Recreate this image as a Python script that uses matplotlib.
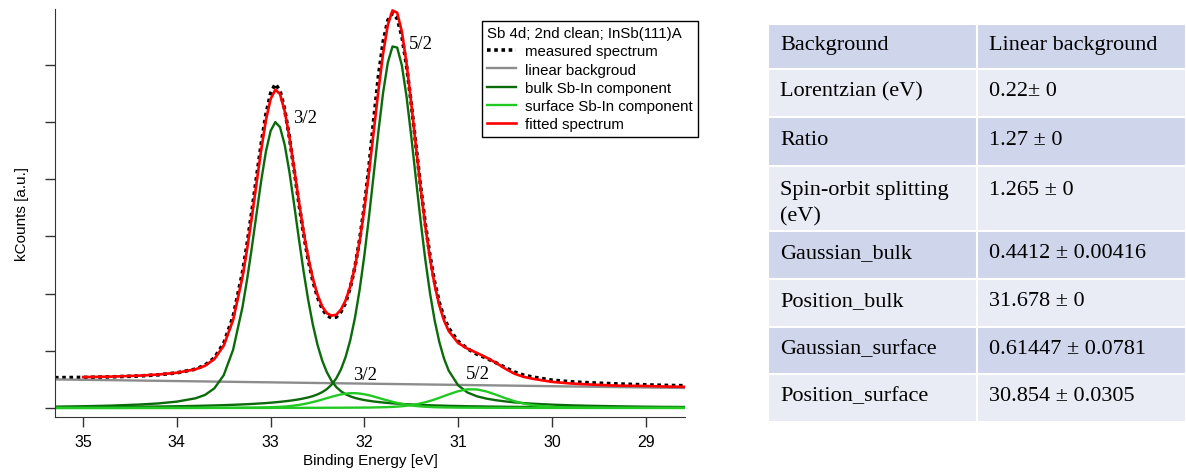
import numpy as np
import matplotlib
matplotlib.use('Agg')
import matplotlib.pyplot as plt
from matplotlib.patches import Rectangle

plt.rcParams['font.family'] = ['Liberation Sans', 'DejaVu Sans']

# binding energy grid (eV), high -> low
energy = [35.3, 35.0, 34.7, 34.4, 34.2, 34.0, 33.8, 33.7, 33.6, 33.5, 33.4, 33.3,
          33.25, 33.2, 33.15, 33.1, 33.05, 33.0, 32.95, 32.9, 32.85, 32.8,
          32.75, 32.7, 32.65, 32.6, 32.55, 32.5, 32.45, 32.4, 32.35, 32.3,
          32.25, 32.2, 32.15, 32.1, 32.05, 32.0, 31.95, 31.9, 31.85, 31.8,
          31.75, 31.7, 31.65, 31.6, 31.55, 31.5, 31.45, 31.4, 31.35, 31.3,
          31.25, 31.2, 31.15, 31.1,
          31.0, 30.9, 30.8, 30.7, 30.6, 30.5, 30.4, 30.3, 30.2,
          30.0, 29.8, 29.6, 29.3, 29.0, 28.8, 28.58]

measured = [0.530, 0.535, 0.545, 0.560, 0.580, 0.615, 0.680, 0.750, 0.876, 1.131, 1.600, 2.370,
            2.877, 3.443, 4.038, 4.623, 5.135, 5.502, 5.665, 5.548, 5.221, 4.737,
            4.172, 3.596, 3.054, 2.598, 2.224, 1.939, 1.735, 1.617, 1.576, 1.590,
            1.681, 1.841, 2.107, 2.471, 2.948, 3.534, 4.235, 5.042, 5.804, 6.400,
            6.776, 6.900, 6.809, 6.498, 5.980, 5.322, 4.593, 3.873, 3.219, 2.660,
            2.197, 1.841, 1.579, 1.395,
            1.166, 1.037, 0.943, 0.873, 0.794, 0.710, 0.630, 0.574, 0.540,
            0.487, 0.459, 0.441, 0.421, 0.405, 0.396, 0.390]

bg_energy = [35.3, 28.58]
background = [0.50, 0.35]

bulk_32 = [0.024, 0.031, 0.042, 0.061, 0.080, 0.112, 0.170, 0.229, 0.344, 0.575, 1.020, 1.765,
           2.258, 2.810, 3.400, 3.980, 4.485, 4.845, 4.998, 4.910, 4.600, 4.130,
           3.565, 2.975, 2.405, 1.895, 1.460, 1.105, 0.830, 0.625, 0.474, 0.367,
           0.293, 0.241, 0.204, 0.176, 0.156, 0.139, 0.126, 0.114, 0.105, 0.096,
           0.089, 0.082, 0.076, 0.071, 0.066, 0.062, 0.058, 0.054, 0.051, 0.048,
           0.045, 0.043, 0.041, 0.038,
           0.035, 0.031, 0.029, 0.026, 0.024, 0.022, 0.020, 0.019, 0.018,
           0.015, 0.013, 0.012, 0.010, 0.009, 0.008, 0.007]

bulk_52 = [0.013, 0.015, 0.018, 0.023, 0.026, 0.031, 0.037, 0.041, 0.045, 0.050, 0.056, 0.063,
           0.067, 0.071, 0.076, 0.081, 0.086, 0.093, 0.100, 0.108, 0.117, 0.127,
           0.138, 0.151, 0.167, 0.185, 0.208, 0.238, 0.277, 0.331, 0.408, 0.518,
           0.674, 0.893, 1.189, 1.580, 2.075, 2.670, 3.353, 4.092, 4.837, 5.515,
           6.039, 6.320, 6.301, 5.987, 5.441, 4.750, 4.002, 3.267, 2.593, 2.009,
           1.528, 1.149, 0.862, 0.652,
           0.397, 0.271, 0.205, 0.165, 0.137, 0.116, 0.099, 0.086, 0.075,
           0.059, 0.047, 0.039, 0.030, 0.023, 0.020, 0.018]

surf_32 = [0.001, 0.001, 0.001, 0.002, 0.002, 0.002, 0.003, 0.003, 0.004, 0.004, 0.005, 0.006,
           0.007, 0.007, 0.008, 0.010, 0.011, 0.014, 0.017, 0.021, 0.026, 0.033,
           0.043, 0.054, 0.068, 0.085, 0.104, 0.125, 0.148, 0.172, 0.196, 0.218,
           0.237, 0.251, 0.259, 0.260, 0.253, 0.240, 0.223, 0.201, 0.178, 0.153,
           0.131, 0.109, 0.089, 0.072, 0.057, 0.045, 0.035, 0.028, 0.022, 0.018,
           0.014, 0.012, 0.010, 0.009,
           0.007, 0.006, 0.005, 0.004, 0.004, 0.003, 0.003, 0.003, 0.002,
           0.002, 0.002, 0.001, 0.001, 0.001, 0.001, 0.001]

surf_52 = [0.001, 0.001, 0.001, 0.001, 0.001, 0.001, 0.001, 0.001, 0.002, 0.002, 0.002, 0.002,
           0.002, 0.002, 0.002, 0.002, 0.002, 0.002, 0.003, 0.003, 0.003, 0.003,
           0.003, 0.003, 0.003, 0.004, 0.004, 0.004, 0.004, 0.005, 0.005, 0.005,
           0.005, 0.006, 0.006, 0.007, 0.007, 0.008, 0.008, 0.010, 0.012, 0.014,
           0.016, 0.020, 0.025, 0.031, 0.040, 0.050, 0.064, 0.081, 0.101, 0.124,
           0.150, 0.179, 0.209, 0.239,
           0.294, 0.327, 0.325, 0.290, 0.235, 0.174, 0.120, 0.078, 0.048,
           0.019, 0.010, 0.007, 0.004, 0.003, 0.003, 0.002]

# fit starts at 35.0 eV (energy[1:])
fitted = [0.541, 0.549, 0.566, 0.585, 0.617, 0.678, 0.738, 0.856, 1.091, 1.540, 2.291,
          2.787, 3.343, 3.938, 4.523, 5.035, 5.402, 5.565, 5.488, 5.191, 4.737,
          4.192, 3.626, 3.094, 2.638, 2.264, 1.979, 1.775, 1.657, 1.616, 1.630,
          1.721, 1.881, 2.127, 2.471, 2.918, 3.484, 4.135, 4.842, 5.554, 6.200,
          6.696, 6.950, 6.909, 6.578, 6.020, 5.322, 4.573, 3.843, 3.179, 2.610,
          2.147, 1.791, 1.529, 1.345,
          1.136, 1.037, 0.963, 0.883, 0.794, 0.690, 0.600, 0.544, 0.510,
          0.457, 0.429, 0.411, 0.391, 0.385, 0.376, 0.370]

params = ['Background', 'Lorentzian (eV)', 'Ratio', 'Spin-orbit splitting\n(eV)',
          'Gaussian_bulk', 'Position_bulk', 'Gaussian_surface', 'Position_surface']
values = ['Linear background', '0.22\u00b1 0', '1.27 \u00b1 0', '1.265 \u00b1 0',
          '0.4412 \u00b1 0.00416', '31.678 \u00b1 0', '0.61447 \u00b1 0.0781', '30.854 \u00b1 0.0305']

W, H = 1186, 477
fig = plt.figure(figsize=(W / 100, H / 100), dpi=100)
ax = fig.add_axes([55 / W, 1 - 418 / H, 630 / W, 408 / H])

dkgreen = '#0b6b0b'
ltgreen = '#22c922'
ax.plot(energy, measured, color='black', lw=2.6, ls=(0, (1, 1)), label='measured spectrum')
ax.plot(bg_energy, background, color='#8c8c8c', lw=1.7, label='linear backgroud')
ax.plot(energy, bulk_32, color=dkgreen, lw=1.7, label='bulk Sb-In component')
ax.plot(energy, bulk_52, color=dkgreen, lw=1.7)
ax.plot(energy, surf_32, color=ltgreen, lw=1.7, label='surface Sb-In component')
ax.plot(energy, surf_52, color=ltgreen, lw=1.7)
ax.plot(energy[1:], fitted, color='red', lw=1.9, label='fitted spectrum')

serif = ['Liberation Serif', 'DejaVu Serif']
ax.text(32.76, 5.07, '3/2', family=serif, fontsize=13.5, ha='left', va='center')
ax.text(31.53, 6.38, '5/2', family=serif, fontsize=13.5, ha='left', va='center')
ax.text(32.12, 0.58, '3/2', family=serif, fontsize=13.5, ha='left', va='center')
ax.text(30.92, 0.60, '5/2', family=serif, fontsize=13.5, ha='left', va='center')

ax.set_xlim(35.3, 28.58)
ax.set_ylim(-0.157, 6.975)
ax.set_xticks(range(29, 36))
ax.set_yticks(range(0, 7))
ax.tick_params(direction='out', length=7, width=1, labelsize=11.5, pad=5, color='#333333')
ax.tick_params(axis='y', labelleft=False)
for s in ['top', 'right']:
    ax.spines[s].set_visible(False)
for s in ['left', 'bottom']:
    ax.spines[s].set_color('#333333')
ax.set_xlabel('Binding Energy [eV]', fontsize=11, labelpad=3)
ax.set_ylabel('kCounts [a.u.]', fontsize=11, labelpad=12)

leg = ax.legend(title='Sb 4d; 2nd clean; InSb(111)A', loc='upper left',
                bbox_to_anchor=(482 / W, 1 - 22 / H), bbox_transform=fig.transFigure,
                fontsize=10.8, title_fontsize=10.8, alignment='left', fancybox=False,
                edgecolor='black', framealpha=1, borderpad=0.35, borderaxespad=0,
                handlelength=1.9, handletextpad=0.6, labelspacing=0.28)
leg.get_frame().set_linewidth(1.0)

# parameter table
tax = fig.add_axes([768 / W, 1 - 423 / H, 418 / W, 398 / H])
tax.set_xlim(0, 418)
tax.set_ylim(398, 0)
tax.axis('off')
row_h = [45, 48, 49, 65, 48, 48, 47, 48]
colors = ['#cfd5ea', '#e9ebf5']
top = 0
for i, (p, v) in enumerate(zip(params, values)):
    h = row_h[i]
    for x0, w in [(0, 209), (209, 209)]:
        tax.add_patch(Rectangle((x0, top), w, h, facecolor=colors[i % 2],
                                edgecolor='white', lw=1.5, clip_on=False))
    y0 = top + min(h / 2 - 2, 24)
    for k, line in enumerate(p.split('\n')):
        tax.text(12, y0 + k * 26, line, family=serif, fontsize=16, va='center', ha='left')
    tax.text(221, y0, v, family=serif, fontsize=16, va='center', ha='left')
    top += h

fig.savefig('out.png', dpi=100)
